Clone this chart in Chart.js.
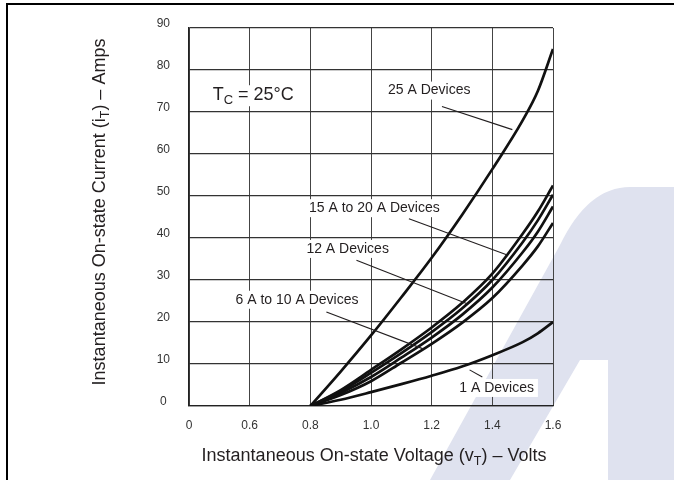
<!DOCTYPE html>
<html>
<head>
<meta charset="utf-8">
<script src="https://cdn.jsdelivr.net/npm/chart.js@4/dist/chart.umd.min.js"></script>
<style>
  body { margin: 0; background: #fff; }
  canvas { display: block; }
</style>
</head>
<body>
<canvas id="chart" width="674" height="480"></canvas>
<script>
// values (volts -> amps)
var voltage   = [0.8, 0.9, 1.0, 1.1, 1.2, 1.3, 1.4, 1.5, 1.55, 1.6];
var amps25    = [0, 8.2, 16.8, 25.9, 35.3, 45.5, 56.4, 68.0, 75.0, 85.0];
var amps20    = [0, 3.8, 8.6, 13.5, 18.7, 24.5, 31.5, 41.0, 46.3, 52.5];
var amps15    = [0, 3.5, 7.9, 12.6, 17.6, 23.2, 30.0, 39.0, 44.2, 50.3];
var amps12    = [0, 3.1, 6.9, 11.5, 16.3, 21.7, 28.2, 36.6, 41.5, 47.5];
var amps6to10 = [0, 2.6, 5.9, 10.3, 14.8, 19.8, 25.7, 33.5, 38.0, 43.6];
var amps1     = [0, 1.5, 3.3, 5.2, 7.2, 9.4, 12.1, 15.2, 17.3, 20.0];

var seriesNames = ['25 A Devices', '20 A Devices', '15 A Devices', '12 A Devices', '6 A to 10 A Devices', '1 A Devices'];
var seriesValues = [amps25, amps20, amps15, amps12, amps6to10, amps1];

// x axis is broken: the first tick reads 0 but sits one step left of 0.6
var xTickValues = [0.4, 0.6, 0.8, 1.0, 1.2, 1.4, 1.6];
var xTickLabels = ['0', '0.6', '0.8', '1.0', '1.2', '1.4', '1.6'];
var yTickValues = [0, 10, 20, 30, 40, 50, 60, 70, 80, 90];

var family = '"Liberation Sans", Arial, Helvetica, sans-serif';

function toPoints(vals) {
  var pts = [];
  for (var i = 0; i < vals.length; i++) pts.push({x: voltage[i], y: vals[i]});
  return pts;
}

// text with subscripts, drawn piece by piece
function measureRich(ctx, parts) {
  var total = 0;
  parts.forEach(function (p) {
    ctx.font = p.size + 'px ' + family;
    p.w = ctx.measureText(p.t).width;
    total += p.w;
  });
  return total;
}
function drawRich(ctx, parts, x, y, align) {
  var total = measureRich(ctx, parts);
  var cx = align === 'center' ? x - total / 2 : x;
  parts.forEach(function (p) {
    ctx.font = p.size + 'px ' + family;
    ctx.fillText(p.t, cx, y + (p.dy || 0));
    cx += p.w;
  });
  return total;
}

// curve labels: centre of text and leader line, in data units
var labels = [
  {text: '25 A Devices', x: 1.192, y: 75.1, from: [1.234, 71.3], to: [1.466, 65.8]},
  {text: '15 A to 20 A Devices', x: 1.011, y: 47.1, from: [1.125, 44.6], to: [1.447, 36.0]},
  {text: '12 A Devices', x: 0.923, y: 37.4, from: [0.952, 34.7], to: [1.315, 24.4]},
  {text: '6 A to 10 A Devices', x: 0.756, y: 25.3, from: [0.853, 22.4], to: [1.172, 13.6]},
  {text: '1 A Devices', x: 1.414, y: 4.3, from: [1.325, 8.6], to: [1.367, 6.9], pad: 4}
];

var decor = {
  id: 'decor',
  beforeDraw: function (chart) {
    var ctx = chart.ctx;
    ctx.save();
    ctx.fillStyle = '#fff';
    ctx.fillRect(0, 0, chart.width, chart.height);
    // faint logo watermark, lower right
    ctx.fillStyle = '#dfe2ef';
    ctx.beginPath();
    ctx.moveTo(430, 480);
    ctx.lineTo(560, 245);
    ctx.quadraticCurveTo(588, 187, 630, 187);
    ctx.lineTo(674, 187);
    ctx.lineTo(674, 480);
    ctx.lineTo(608, 480);
    ctx.lineTo(608, 360);
    ctx.lineTo(580, 360);
    ctx.lineTo(510, 480);
    ctx.closePath();
    ctx.fill();
    // page frame
    ctx.fillStyle = '#000';
    ctx.fillRect(6, 3, 668, 2);
    ctx.fillRect(6, 3, 2, 477);
    ctx.restore();
  },
  afterDraw: function (chart) {
    var ctx = chart.ctx;
    var sx = chart.scales.x, sy = chart.scales.y;
    var area = chart.chartArea;
    ctx.save();
    ctx.fillStyle = '#231f20';
    ctx.strokeStyle = '#231f20';
    ctx.textBaseline = 'middle';
    ctx.font = '14px ' + family;
    labels.forEach(function (l) {
      var px = sx.getPixelForValue(l.x), py = sy.getPixelForValue(l.y);
      var w = ctx.measureText(l.text).width;
      var pad = l.pad || 2;
      ctx.fillStyle = '#fff';
      ctx.fillRect(px - w / 2 - pad, py - 9, w + pad * 2, 18);
      ctx.fillStyle = '#231f20';
      ctx.textAlign = 'center';
      ctx.fillText(l.text, px, py);
      ctx.lineWidth = 1.1;
      ctx.beginPath();
      ctx.moveTo(sx.getPixelForValue(l.from[0]), sy.getPixelForValue(l.from[1]));
      ctx.lineTo(sx.getPixelForValue(l.to[0]), sy.getPixelForValue(l.to[1]));
      ctx.stroke();
    });

    // case temperature note
    ctx.textAlign = 'left';
    ctx.textBaseline = 'alphabetic';
    var tParts = [{t: 'T', size: 18}, {t: 'C', size: 13, dy: 4}, {t: ' = 25°C', size: 18}];
    var tx = sx.getPixelForValue(0.478), ty = sy.getPixelForValue(72.8);
    var tw = measureRich(ctx, tParts);
    ctx.fillStyle = '#fff';
    ctx.fillRect(tx - 2, ty - 15, tw + 4, 21);
    ctx.fillStyle = '#231f20';
    drawRich(ctx, tParts, tx, ty, 'left');

    // axis titles
    var midX = (area.left + area.right) / 2 + 3;
    drawRich(ctx, [
      {t: 'Instantaneous On-state Voltage (v', size: 18},
      {t: 'T', size: 12.5, dy: 4},
      {t: ') – Volts', size: 18}
    ], midX, 461, 'center');

    ctx.translate(105, (area.top + area.bottom) / 2 - 5);
    ctx.rotate(-Math.PI / 2);
    drawRich(ctx, [
      {t: 'Instantaneous On-state Current (i', size: 18},
      {t: 'T', size: 12.5, dy: 4},
      {t: ') – Amps', size: 18}
    ], 0, 0, 'center');
    ctx.restore();
  }
};

var datasets = seriesValues.map(function (vals, i) {
  return {
    label: seriesNames[i],
    data: toPoints(vals),
    borderColor: '#111',
    borderWidth: 2.7,
    pointRadius: 0,
    fill: false,
    cubicInterpolationMode: 'monotone'
  };
});

new Chart(document.getElementById('chart'), {
  type: 'line',
  data: {datasets: datasets},
  plugins: [decor],
  options: {
    responsive: false,
    animation: false,
    devicePixelRatio: 1,
    layout: {padding: {top: 28, right: 121, left: 0, bottom: 0}},
    plugins: {legend: {display: false}, tooltip: {enabled: false}},
    scales: {
      x: {
        type: 'linear',
        min: 0.4,
        max: 1.6,
        afterFit: function (s) { s.height = 74; },
        afterBuildTicks: function (s) { s.ticks = xTickValues.map(function (v) { return {value: v}; }); },
        ticks: {
          padding: 12,
          color: '#333',
          font: {family: family, size: 12},
          callback: function (v) { return xTickLabels[xTickValues.indexOf(Math.round(v * 10) / 10)]; }
        },
        grid: {color: '#444', lineWidth: 1, drawTicks: false},
        border: {color: '#222', width: 1.3}
      },
      y: {
        min: 0,
        max: 90,
        afterFit: function (s) { s.width = 189; },
        afterBuildTicks: function (s) { s.ticks = yTickValues.map(function (v) { return {value: v}; }); },
        ticks: {
          padding: 19,
          crossAlign: 'center',
          labelOffset: -4,
          color: '#333',
          font: {family: family, size: 12}
        },
        grid: {color: '#333', lineWidth: 1.2, drawTicks: false},
        border: {color: '#222', width: 1.3}
      }
    }
  }
});
</script>
</body>
</html>
